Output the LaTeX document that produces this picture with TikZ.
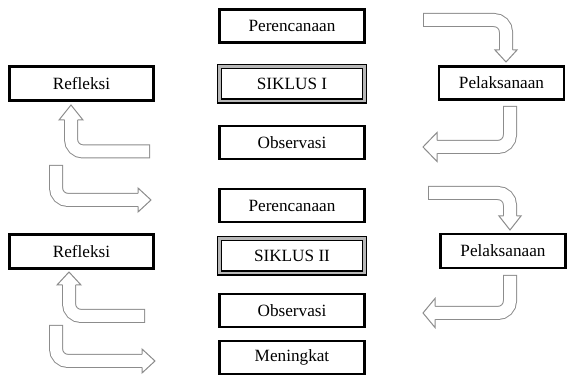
\documentclass[tikz,border=0pt]{standalone}
\usepackage{fontspec}
\setmainfont{Liberation Serif}
\usetikzlibrary{calc}

% bent block arrow: start, corner, head base, tip, half head width
\newcommand\bentarrow[5]{%
  \draw[shaft] #1 -- #2 -- #3;
  \draw[shaftin] #1 -- #2 -- #3;
  \draw[headtip] ($#3!3.25pt!90:#4$) -- ($#3!#5!90:#4$) -- #4
    -- ($#3!#5!-90:#4$) -- ($#3!3.25pt!-90:#4$);
}

\begin{document}
\begin{tikzpicture}[
    x=0.5pt, y=-0.5pt,
    box/.style={rectangle, draw, line width=1.4pt, fill=white, minimum width=72.5pt, minimum height=16.5pt, inner sep=0pt, font=\fontsize{8.6}{10}\selectfont},
    siklus/.style={box, line width=0.9pt, double=black!28, double distance=1.1pt, minimum height=17.4pt},
    shaft/.style={draw=black!45, line width=7pt, rounded corners=6pt},
    shaftin/.style={draw=white, line width=6pt, rounded corners=6pt, shorten <=0.5pt},
    headtip/.style={draw=black!45, fill=white, line width=0.5pt, line join=miter}]
    \useasboundingbox (0,0) rectangle (568,378);

    % middle column
    \node[box] (per1) at (292,26) {Perencanaan};
    \node[siklus] (sik1) at (292,84) {SIKLUS I};
    \node[box] (obs1) at (292,142.5) {Observasi};
    \node[box] (per2) at (292,205.5) {Perencanaan};
    \node[siklus] (sik2) at (292,256) {SIKLUS II};
    \node[box] (obs2) at (292,310.5) {Observasi};
    \node[box] (men) at (292,357.5) {Meningkat};

    % sides
    \node[box, minimum width=72pt, minimum height=17pt] (ref1) at (81.5,83.5) {Refleksi};
    \node[box, minimum width=72pt, minimum height=17pt] (ref2) at (81.5,251.5) {Refleksi};
    \node[box, minimum width=62.5pt] (pel1) at (501.5,83) {Pelaksanaan};
    \node[box, minimum width=62.5pt, minimum height=17pt] (pel2) at (503,251) {Pelaksanaan};

    % siklus I arrows
    \bentarrow{(423,20)}{(506,20)}{(506,50)}{(506,62)}{5.5pt}
    \bentarrow{(510,106)}{(510,147)}{(437,147)}{(423,147)}{7.25pt}
    \bentarrow{(150,151.5)}{(71,151.5)}{(71,120)}{(71,105)}{6pt}
    \bentarrow{(56,165)}{(56,200)}{(138,200)}{(151,200)}{6pt}

    % siklus II arrows
    \bentarrow{(428,193)}{(510,193)}{(510,216)}{(510,230)}{5.5pt}
    \bentarrow{(510,275)}{(510,313)}{(435,313)}{(423,313)}{7.25pt}
    \bentarrow{(145,316)}{(69,316)}{(69,285)}{(69,272)}{6pt}
    \bentarrow{(56,325)}{(56,361)}{(142,361)}{(155,361)}{6pt}
\end{tikzpicture}
\end{document}
